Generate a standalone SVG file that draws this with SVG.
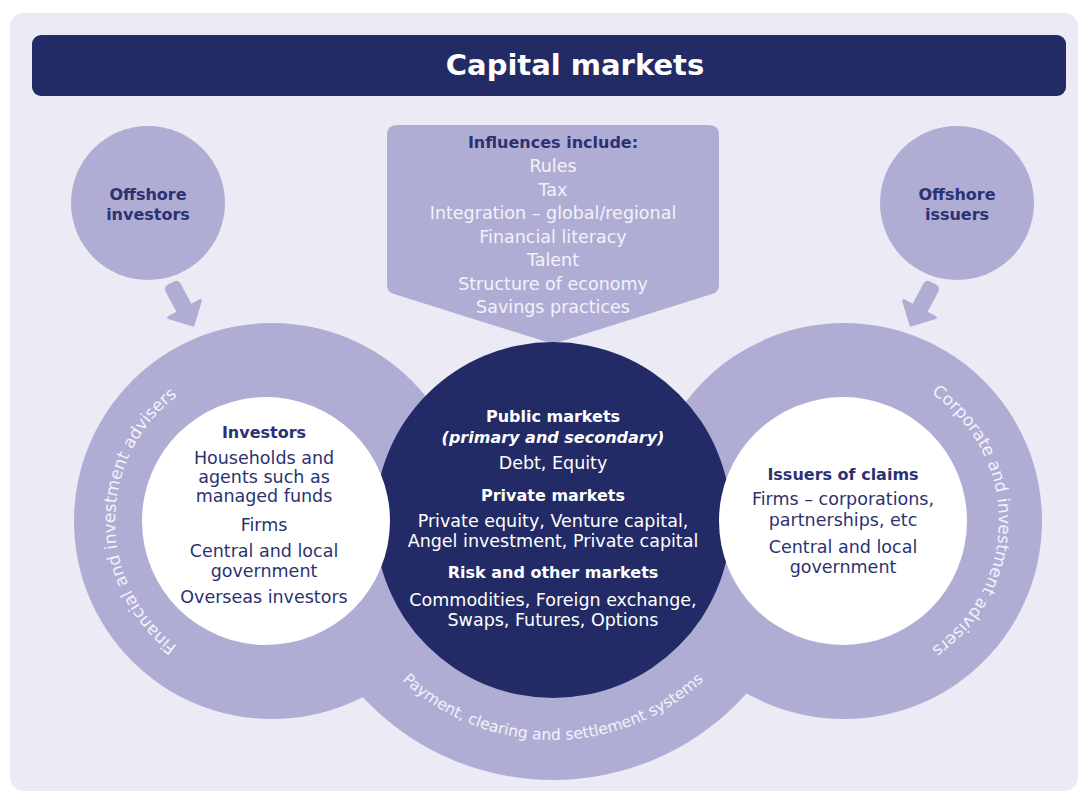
<svg xmlns="http://www.w3.org/2000/svg" width="1081" height="794" viewBox="0 0 1081 794">
<style>
.t{font-family:"DejaVu Sans","Liberation Sans",sans-serif;text-anchor:middle}
.r{font-size:17.5px}
.b{font-size:16px;font-weight:bold}
.navy{fill:#2C3271}
.wh{fill:#FFFFFF}
.lt{fill:#F3F2FA}
.lav{fill:#B0ADD5}
.curve{font-family:"DejaVu Sans","Liberation Sans",sans-serif;fill:#F3F2FA}
</style>
<defs>
<path id="arrowShape" d="M0,0 L-18,-18 L-7,-18 L-7,-42 Q-7,-46 -3,-46 L3,-46 Q7,-46 7,-42 L7,-18 L18,-18 Z"/>
<path id="arcLeft" d="M272,678 A157 157 0 0 1 272,364"/>
<path id="arcRight" d="M845,367 A154 154 0 0 1 845,675"/>
<path id="arcBottom" d="M333,520 A220 220 0 0 0 773,520"/>
</defs>
<rect x="10" y="13" width="1068" height="778" rx="14" fill="#ECEAF4"/>
<g id="title">
<rect x="32" y="35" width="1034" height="61" rx="9" fill="#232B66"/>
<text class="t wh" x="575" y="75" font-size="29px" font-weight="bold">Capital markets</text>
</g>
<g id="payment-ring">
<path class="lav" d="M293,520 A260 260 0 0 0 813,520 Z"/>
</g>
<g id="advisers-left">
<circle class="lav" cx="272" cy="521" r="198"/>
</g>
<g id="advisers-right">
<circle class="lav" cx="844" cy="521" r="198"/>
</g>
<g id="offshore-investors">
<circle class="lav" cx="148" cy="203" r="77"/>
<text class="t b navy" x="148" y="200">Offshore</text>
<text class="t b navy" x="148" y="220">investors</text>
</g>
<g id="offshore-issuers">
<circle class="lav" cx="957" cy="203" r="77"/>
<text class="t b navy" x="957" y="200">Offshore</text>
<text class="t b navy" x="957" y="220">issuers</text>
</g>
<g id="influences">
<path class="lav" d="M397,125 L709,125 Q719,125 719,135 L719,285 Q719,292 712,294 L553,344 L394,294 Q387,292 387,285 L387,135 Q387,125 397,125 Z"/>
<text class="t b navy" x="553" y="148">Influences include:</text>
<text class="t r lt" x="553" y="172">Rules</text>
<text class="t r lt" x="553" y="195.5">Tax</text>
<text class="t r lt" x="553" y="219">Integration – global/regional</text>
<text class="t r lt" x="553" y="242.5">Financial literacy</text>
<text class="t r lt" x="553" y="266">Talent</text>
<text class="t r lt" x="553" y="289.5">Structure of economy</text>
<text class="t r lt" x="553" y="313">Savings practices</text>
</g>
<g id="markets">
<circle cx="553" cy="520" r="178" fill="#232B66"/>
<text class="t b wh" x="553" y="422">Public markets</text>
<text class="t b wh" x="553" y="443" font-style="italic">(primary and secondary)</text>
<text class="t r wh" x="553" y="469">Debt, Equity</text>
<text class="t b wh" x="553" y="501">Private markets</text>
<text class="t r wh" x="553" y="527">Private equity, Venture capital,</text>
<text class="t r wh" x="553" y="547">Angel investment, Private capital</text>
<text class="t b wh" x="553" y="578">Risk and other markets</text>
<text class="t r wh" x="553" y="606">Commodities, Foreign exchange,</text>
<text class="t r wh" x="553" y="626">Swaps, Futures, Options</text>
</g>
<g id="investors">
<circle cx="266" cy="521" r="124" fill="#FFFFFF"/>
<text class="t b navy" x="264" y="438">Investors</text>
<text class="t r navy" x="264" y="464">Households and</text>
<text class="t r navy" x="264" y="483">agents such as</text>
<text class="t r navy" x="264" y="502">managed funds</text>
<text class="t r navy" x="264" y="531">Firms</text>
<text class="t r navy" x="264" y="557">Central and local</text>
<text class="t r navy" x="264" y="577">government</text>
<text class="t r navy" x="264" y="603">Overseas investors</text>
</g>
<g id="issuers">
<circle cx="843" cy="521" r="124" fill="#FFFFFF"/>
<text class="t b navy" x="843" y="480">Issuers of claims</text>
<text class="t r navy" x="843" y="505">Firms – corporations,</text>
<text class="t r navy" x="843" y="526">partnerships, etc</text>
<text class="t r navy" x="843" y="553">Central and local</text>
<text class="t r navy" x="843" y="573">government</text>
</g>
<g id="ring-labels">
<text class="curve" font-size="17px"><textPath href="#arcLeft" startOffset="50%" text-anchor="middle">Financial and investment advisers</textPath></text>
<text class="curve" font-size="17px"><textPath href="#arcRight" startOffset="50%" text-anchor="middle">Corporate and investment advisers</textPath></text>
<text class="curve" font-size="15.5px"><textPath href="#arcBottom" startOffset="50%" text-anchor="middle">Payment, clearing and settlement systems</textPath></text>
</g>
<g id="connectors">
<use href="#arrowShape" class="lav" stroke="#B0ADD5" stroke-width="3" stroke-linejoin="round" transform="translate(193,325) rotate(-28)"/>
<use href="#arrowShape" class="lav" stroke="#B0ADD5" stroke-width="3" stroke-linejoin="round" transform="translate(911,325) rotate(28)"/>
</g>
</svg>
